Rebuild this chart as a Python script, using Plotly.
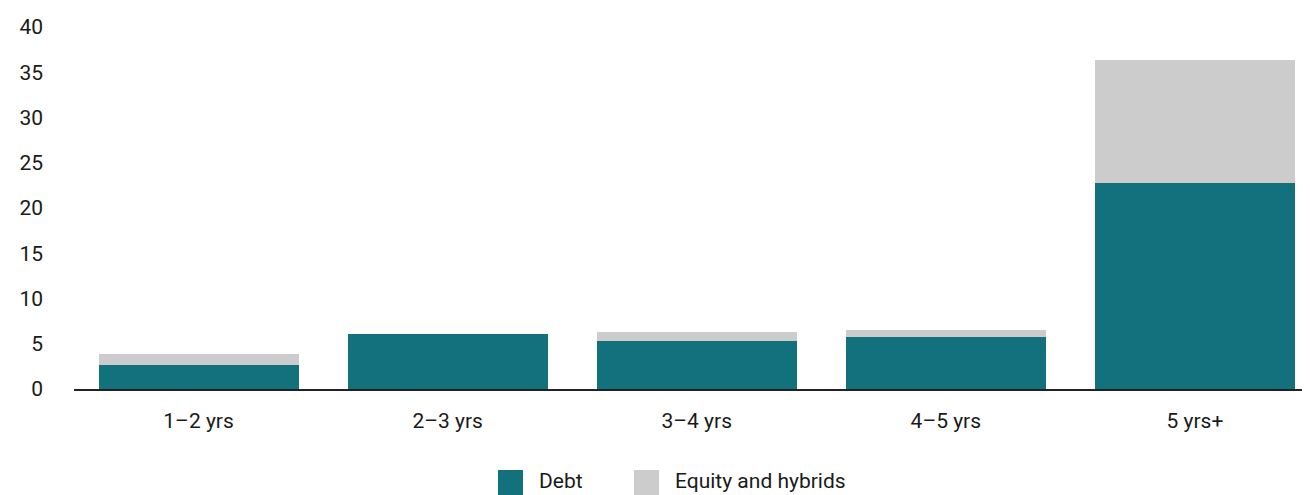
import plotly.graph_objects as go

categories = ["1–2 yrs", "2–3 yrs", "3–4 yrs", "4–5 yrs", "5 yrs+"]
debt = [2.65, 6.1, 5.3, 5.75, 22.8]
equity_hybrids = [1.2, 0.0, 1.0, 0.8, 13.6]
series_names = ["Debt", "Equity and hybrids"]

DEBT_COLOR = "#13717D"
EQUITY_COLOR = "#CCCCCC"
FONT = "Roboto, Noto Sans, sans-serif"
# the page body has an 8px margin, so the figure starts at (8, 8)
W, H = 1302, 487
L, T, B = 66, 19, 106

fig = go.Figure()
fig.add_trace(go.Bar(x=categories, y=debt, name=series_names[0], marker_color=DEBT_COLOR,
                     marker_line_width=0, showlegend=False))
fig.add_trace(go.Bar(x=categories, y=equity_hybrids, name=series_names[1],
                     marker_color=EQUITY_COLOR, marker_line_width=0, showlegend=False))


def px(x):
    return (x - L) / (W - L)


def py(y):
    return (H - B - y) / (H - B - T)


# hand-made legend with big square keys, sitting at the bottom edge
legend_items = [(series_names[0], DEBT_COLOR, 490), (series_names[1], EQUITY_COLOR, 626)]
for name, color, x0 in legend_items:
    fig.add_shape(type="rect", xref="paper", yref="paper",
                  x0=px(x0), x1=px(x0 + 25), y0=py(487), y1=py(462),
                  fillcolor=color, line_width=0)
    fig.add_annotation(xref="paper", yref="paper", x=px(x0 + 39), y=py(473),
                       xanchor="left", yanchor="middle", text=name, showarrow=False,
                       font=dict(size=21))

fig.update_layout(
    width=W, height=H,
    barmode="stack", bargap=0.197,
    margin=dict(l=L, r=0, t=T, b=B, autoexpand=False),
    paper_bgcolor="white", plot_bgcolor="white",
    font=dict(family=FONT, size=21, color="#1a1a1a"),
    showlegend=False,
)
fig.update_xaxes(range=[-0.5, 4.462], showline=True, linecolor="#222222", linewidth=2,
                 ticks="", showgrid=False, automargin=False, ticklabelstandoff=12)
fig.update_yaxes(range=[0, 40], dtick=5, showgrid=False, zeroline=False, showline=False,
                 automargin=False, ticklabelstandoff=30)

fig.write_html("out.html")
